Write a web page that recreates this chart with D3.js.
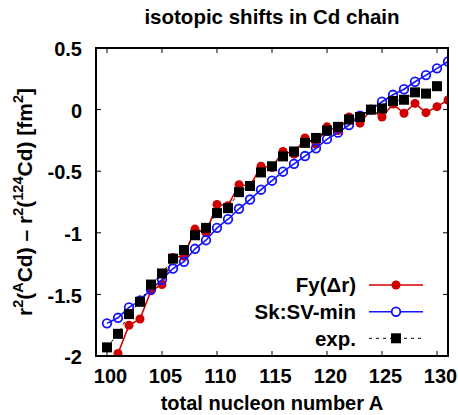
<!DOCTYPE html>
<html>
<head>
<meta charset="utf-8">
<script src="https://cdn.jsdelivr.net/npm/d3@7"></script>
<style>
  body { margin: 0; background: #fff; }
  svg { font-family: "Liberation Sans", Arial, sans-serif; font-weight: bold; }
</style>
</head>
<body>
<svg id="chart" width="458" height="415"></svg>
<script>
// values
const fyA = [101, 102, 103, 104, 105, 106, 107, 108, 109, 110, 111, 112, 113, 114, 115,
  116, 117, 118, 119, 120, 121, 122, 123, 124, 125, 126, 127, 128, 129, 130, 131];
const fyR = [-1.98, -1.75, -1.70, -1.47, -1.42, -1.20, -1.19, -0.97, -1.00, -0.77, -0.78, -0.61, -0.62, -0.46, -0.47,
  -0.34, -0.36, -0.23, -0.28, -0.14, -0.17, -0.06, -0.11, 0.0, -0.06, 0.045, -0.03, 0.05, -0.025, 0.024, 0.078];

const skA = [100, 101, 102, 103, 104, 105, 106, 107, 108, 109, 110, 111, 112, 113, 114, 115,
  116, 117, 118, 119, 120, 121, 122, 123, 124, 125, 126, 127, 128, 129, 130, 131];
const skR = [-1.735, -1.69, -1.605, -1.55, -1.46, -1.38, -1.29, -1.235, -1.13, -1.06, -0.96, -0.89, -0.805, -0.73, -0.65, -0.577,
  -0.504, -0.44, -0.377, -0.314, -0.24, -0.187, -0.125, -0.05, 0.0, 0.064, 0.12, 0.165, 0.226, 0.28, 0.335, 0.39];

const expA = [100, 101, 102, 103, 104, 105, 106, 107, 108, 109, 110, 111, 112, 113, 114, 115,
  116, 117, 118, 119, 120, 121, 122, 123, 124, 125, 126, 127, 128, 129, 130];
const expR = [-1.93, -1.82, -1.66, -1.56, -1.42, -1.33, -1.21, -1.14, -1.02, -0.96, -0.84, -0.80, -0.67, -0.62, -0.51, -0.46,
  -0.38, -0.34, -0.27, -0.23, -0.17, -0.14, -0.08, -0.06, 0.0, 0.01, 0.07, 0.08, 0.14, 0.13, 0.19];

const xTicks = [100, 105, 110, 115, 120, 125, 130];
const yTicks = [0.5, 0, -0.5, -1, -1.5, -2];

const red = "#d00000";
const blue = "#1414ff";

const svg = d3.select("#chart");
const pl = 96, pr = 448, pt = 48, pb = 356;

const x = d3.scaleLinear().domain([99, 131]).range([pl, pr]);
const y = d3.scaleLinear().domain([-2, 0.5]).range([pb, pt]);

// title
svg.append("text")
  .attr("x", 272).attr("y", 24)
  .attr("text-anchor", "middle")
  .style("font-size", "20.5px")
  .text("isotopic shifts in Cd chain");

// ticks on all four sides, pointing in
const tickLen = 5;
const g = svg.append("g");
xTicks.forEach((t) => {
  g.append("line").attr("x1", x(t)).attr("x2", x(t)).attr("y1", pb).attr("y2", pb - tickLen).attr("stroke", "#000");
  g.append("line").attr("x1", x(t)).attr("x2", x(t)).attr("y1", pt).attr("y2", pt + tickLen).attr("stroke", "#000");
  g.append("text")
    .attr("x", x(t) + 3.5).attr("y", 383)
    .attr("text-anchor", "middle")
    .style("font-size", "20px")
    .text(d3.format("d")(t));
});
yTicks.forEach((t) => {
  g.append("line").attr("x1", pl).attr("x2", pl + tickLen).attr("y1", y(t)).attr("y2", y(t)).attr("stroke", "#000");
  g.append("line").attr("x1", pr).attr("x2", pr - tickLen).attr("y1", y(t)).attr("y2", y(t)).attr("stroke", "#000");
  g.append("text")
    .attr("x", 82).attr("y", y(t) + 1)
    .attr("dy", "0.36em")
    .attr("text-anchor", "end")
    .style("font-size", "20px")
    .text(t === 0 ? "0" : String(t));
});

// clip to frame
svg.append("clipPath").attr("id", "clip")
  .append("rect").attr("x", pl).attr("y", pt).attr("width", pr - pl).attr("height", pb - pt);
const plot = svg.append("g").attr("clip-path", "url(#clip)");

const fy = fyA.map((a, i) => [a, fyR[i]]);
const sk = skA.map((a, i) => [a, skR[i]]);
const ex = expA.map((a, i) => [a, expR[i]]);

const line = d3.line().x((d) => x(d[0])).y((d) => y(d[1]));

// Fy(dr)
plot.append("path").datum(fy).attr("d", line)
  .attr("fill", "none").attr("stroke", red).attr("stroke-width", 1.6);
plot.selectAll(".fy").data(fy).enter().append("circle")
  .attr("cx", (d) => x(d[0])).attr("cy", (d) => y(d[1]))
  .attr("r", 4.5).attr("fill", red);

// Sk:SV-min
plot.append("path").datum(sk).attr("d", line)
  .attr("fill", "none").attr("stroke", blue).attr("stroke-width", 1.6);
plot.selectAll(".sk").data(sk).enter().append("circle")
  .attr("cx", (d) => x(d[0])).attr("cy", (d) => y(d[1]))
  .attr("r", 4.3).attr("fill", "none").attr("stroke", blue).attr("stroke-width", 1.8);

// exp.
plot.append("path").datum(ex).attr("d", line)
  .attr("fill", "none").attr("stroke", "#000").attr("stroke-width", 1).attr("stroke-dasharray", "3,4");
plot.selectAll(".ex").data(ex).enter().append("rect")
  .attr("x", (d) => x(d[0]) - 5).attr("y", (d) => y(d[1]) - 5)
  .attr("width", 10).attr("height", 10).attr("fill", "#000");

// frame
svg.append("rect")
  .attr("x", pl).attr("y", pt).attr("width", pr - pl).attr("height", pb - pt)
  .attr("fill", "none").attr("stroke", "#000").attr("stroke-width", 2);

// legend
const legend = [
  { label: "Fy(\u0394r)", kind: "fy", yy: 285 },
  { label: "Sk:SV-min", kind: "sk", yy: 311.7 },
  { label: "exp.", kind: "ex", yy: 338.3 },
];
legend.forEach((l) => {
  svg.append("text")
    .attr("x", 356).attr("y", l.yy).attr("dy", "0.36em")
    .attr("text-anchor", "end")
    .style("font-size", "20.5px")
    .text(l.label);
  if (l.kind === "fy") {
    svg.append("line").attr("x1", 369).attr("x2", 423).attr("y1", l.yy).attr("y2", l.yy)
      .attr("stroke", red).attr("stroke-width", 1.6);
    svg.append("circle").attr("cx", 396).attr("cy", l.yy).attr("r", 4.5).attr("fill", red);
  } else if (l.kind === "sk") {
    svg.append("line").attr("x1", 369).attr("x2", 423).attr("y1", l.yy).attr("y2", l.yy)
      .attr("stroke", blue).attr("stroke-width", 1.6);
    svg.append("circle").attr("cx", 396).attr("cy", l.yy).attr("r", 4.3)
      .attr("fill", "#fff").attr("stroke", blue).attr("stroke-width", 1.8);
  } else {
    svg.append("line").attr("x1", 369).attr("x2", 423).attr("y1", l.yy).attr("y2", l.yy)
      .attr("stroke", "#000").attr("stroke-width", 1).attr("stroke-dasharray", "3,4");
    svg.append("rect").attr("x", 391).attr("y", l.yy - 5).attr("width", 10).attr("height", 10).attr("fill", "#000");
  }
});

// axis titles
svg.append("text")
  .attr("x", 272).attr("y", 410)
  .attr("text-anchor", "middle")
  .style("font-size", "20px")
  .text("total nucleon number A");

const yl = svg.append("text")
  .attr("transform", "translate(31.5,202) rotate(-90)")
  .attr("text-anchor", "middle")
  .style("font-size", "21px");
const parts = [
  ["r", false], ["2", true], ["(", false], ["A", true], ["Cd) \u2013 r", false], ["2", true],
  ["(", false], ["124", true], ["Cd) [fm", false], ["2", true], ["]", false],
];
parts.forEach(([s, sup], i) => {
  const ts = yl.append("tspan").text(s);
  const prevSup = i > 0 && parts[i - 1][1];
  if (sup) ts.attr("dy", -9).style("font-size", "14.5px");
  else if (prevSup) ts.attr("dy", 9);
});
</script>
</body>
</html>
